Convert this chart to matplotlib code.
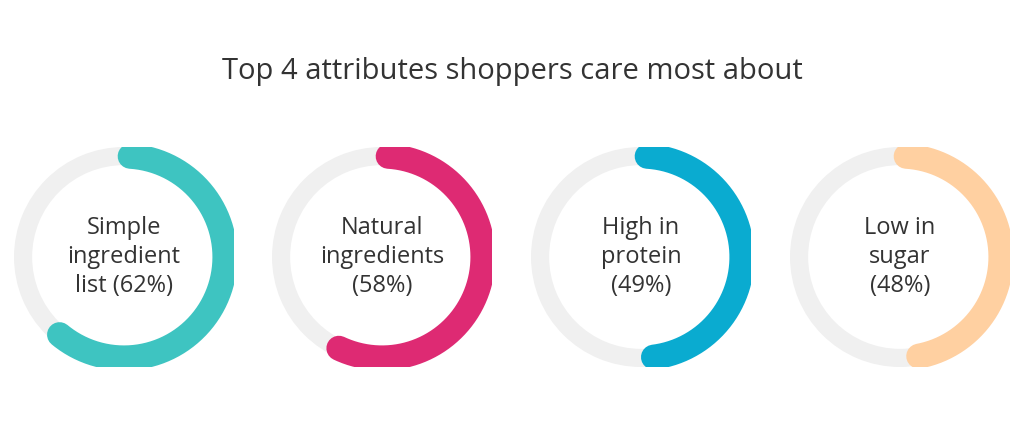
import matplotlib
matplotlib.use("Agg")
import matplotlib.pyplot as plt
import numpy as np

labels = ["Simple\ningredient\nlist (62%)", "Natural\ningredients\n(58%)", "High in\nprotein\n(49%)", "Low in\nsugar\n(48%)"]
values = [62, 58, 49, 48]
colors = ["#3EC4C1", "#DE2A73", "#0AABD0", "#FFD0A1"]
title = "Top 4 attributes shoppers care most about"

W, H = 1024, 438
fig = plt.figure(figsize=(W/100, H/100), dpi=100)
fig.patch.set_facecolor("white")
fig.text(0.5, 1 - 72/H, title, ha="center", va="center", fontsize=21, color="#333333", family="Open Sans")

centers = [124, 382, 641, 900]
cy = 257
r = 110
for cx, lab, v, c in zip(centers, labels, values, colors):
    ax = fig.add_axes([(cx - r)/W, (H - cy - r)/H, 2*r/W, 2*r/H])
    ax.pie([100], colors=["#F0F0F0"], radius=1, wedgeprops=dict(width=0.165, edgecolor="none"))
    # value arc with rounded caps
    gap = 3.5
    th = np.radians(np.linspace(90 - gap, 90 - 360 * v / 100 + gap, 300))
    rm = 1 - 0.165 / 2
    ax.plot(rm * np.cos(th), rm * np.sin(th), color=c, lw=18, solid_capstyle="round")
    ax.set_xlim(-1, 1); ax.set_ylim(-1, 1)
    ax.set_aspect("equal")
    ax.axis("off")
    ax.text(0, 0, lab, ha="center", va="center", fontsize=17, color="#333333",
            family="Open Sans", linespacing=1.3)

fig.savefig("out.png", dpi=100, facecolor="white")
